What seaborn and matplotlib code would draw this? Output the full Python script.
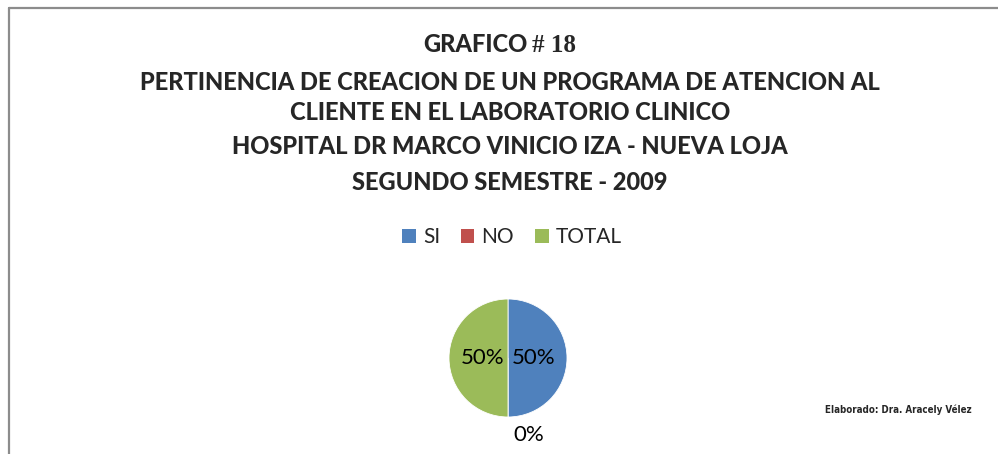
import matplotlib
matplotlib.use("Agg")
import matplotlib.pyplot as plt
from matplotlib.patches import Patch
from matplotlib.lines import Line2D
import seaborn as sns

categories = ["SI", "NO", "TOTAL"]
values = [50, 0, 50]
colors = ["#4F81BD", "#C0504D", "#9BBB59"]
title_lines = [
    "PERTINENCIA DE CREACION DE UN PROGRAMA DE ATENCION AL",
    "CLIENTE EN EL LABORATORIO CLINICO",
    "HOSPITAL DR MARCO VINICIO IZA - NUEVA LOJA",
    "SEGUNDO SEMESTRE - 2009",
]
source = "Elaborado: Dra. Aracely Vélez"

sns.set_theme(style="white")
plt.rcParams["font.family"] = ["Lato", "DejaVu Sans"]

W, H = 998, 454
fig = plt.figure(figsize=(W / 100, H / 100), dpi=100)
fig.patch.set_facecolor("white")

def fx(x):
    return x / W

def fy(y):
    return 1 - y / H

# frame
fig.add_artist(Line2D([fx(9), 1.0], [fy(8), fy(8)], color="#8c8c8c", lw=1.6, transform=fig.transFigure))
fig.add_artist(Line2D([fx(9), fx(9)], [fy(8), 0], color="#8c8c8c", lw=1.6, transform=fig.transFigure))

# title
fig.text(fx(528), fy(45), "GRAFICO", ha="right", va="center", fontsize=17, fontweight="black", family=["Lato", "DejaVu Sans"])
fig.text(fx(532), fy(45), "# 18", ha="left", va="center", fontsize=18, fontweight="bold", family=["Liberation Serif", "DejaVu Serif"])
ys = [82, 113, 146, 183]
for t, y in zip(title_lines, ys):
    fig.text(fx(510), fy(y), t, ha="center", va="center", fontsize=17, fontweight="black")

# pie
cx, cy, r = 508, 358, 59
ax = fig.add_axes([fx(cx - r), 1 - (cy + r) / H, 2 * r / W, 2 * r / H])
wedges, texts, autotexts = ax.pie(
    values, colors=colors, startangle=90, counterclock=False,
    autopct="%1.0f%%", pctdistance=0.43,
    wedgeprops=dict(edgecolor="white", linewidth=0.6),
    textprops=dict(fontsize=16, color="black"),
)
for v, at in zip(values, autotexts):
    if v == 0:
        at.set_position((0.36, -1.3))
ax.set_xlim(-1, 1)
ax.set_ylim(-1, 1)
ax.set_aspect("equal")
ax.axis("off")

# legend
handles = [Patch(facecolor=c, edgecolor="none", label=l) for c, l in zip(colors, categories)]
fig.legend(handles=handles, loc="center", bbox_to_anchor=(fx(512), fy(237)), ncol=3,
           frameon=False, fontsize=15, handlelength=0.65, handleheight=0.65,
           handletextpad=0.35, columnspacing=1.0)

# source note
fig.text(fx(898), fy(410), source, ha="center", va="center", fontsize=7,
         fontweight="bold", fontstretch="condensed", family=["DejaVu Sans"])

fig.savefig("out.png", dpi=100)
